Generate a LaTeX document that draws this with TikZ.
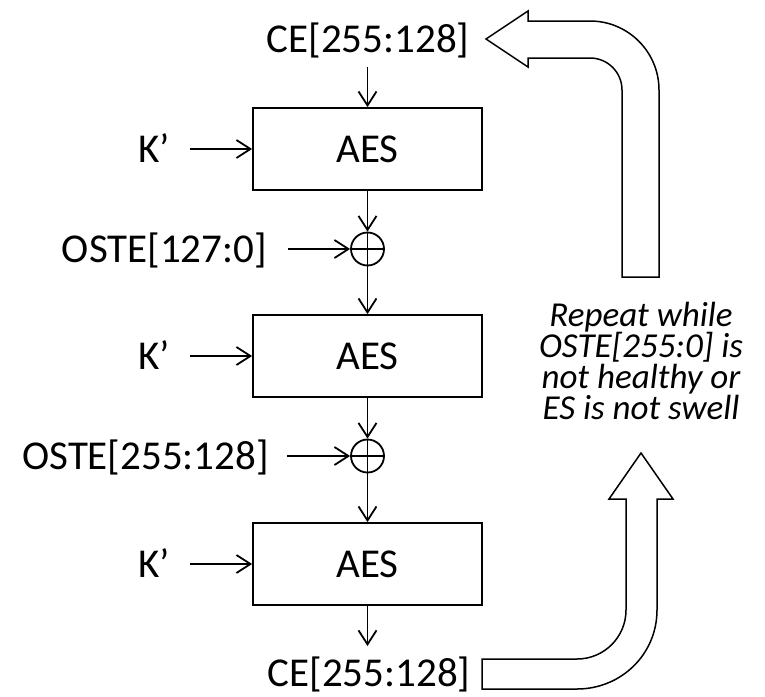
\documentclass[tikz,border=0pt]{standalone}
\usepackage{fontspec}
\setmainfont{Carlito}
\usetikzlibrary{arrows.meta}
\begin{document}
\begin{tikzpicture}[x=1pt,y=-1pt,
  lbl/.style={font=\fontsize{41}{49}\selectfont, inner sep=0pt},
  aes/.style={draw, line width=1.8pt, minimum width=229pt, minimum height=82pt, inner sep=0pt, font=\fontsize{41}{49}\selectfont},
  xorc/.style={draw, circle, line width=1.8pt, minimum size=33pt, inner sep=0pt},
  conn/.style={line width=1.8pt, -{Straight Barb[length=14pt,width=18pt,line width=1.8pt]}},
  bigarrow/.style={draw, line width=1.5pt, line join=miter},
  note/.style={font=\fontsize{35}{31}\selectfont\itshape, align=center, inner sep=0pt}
]
\useasboundingbox (0,0) rectangle (765,696);

\node[lbl, anchor=base] (ceTop) at (368,52) {CE[255:128]};
\node[aes] (b1) at (367.5,149) {AES};
\node[aes] (b2) at (367.5,356) {AES};
\node[aes] (b3) at (367.5,564) {AES};
\node[xorc] (x1) at (367.5,249) {};
\node[xorc] (x2) at (367.5,456) {};
\node[lbl, anchor=base] (ceBot) at (369,686) {CE[255:128]};
\node[lbl, anchor=base east] (k1) at (170,162) {K’};
\node[lbl, anchor=base east] (k2) at (170,369) {K’};
\node[lbl, anchor=base east] (k3) at (170,577) {K’};
\node[lbl, anchor=base east] (o1) at (267,262) {OSTE[127:0]};
\node[lbl, anchor=base east] (o2) at (269,469) {OSTE[255:128]};
\node[note] (rep) at (641,361) {Repeat while\\OSTE[255:0] is\\not healthy or\\ES is not swell};

\coordinate (topStart) at (367.5,67);
\coordinate (botEnd) at (367.5,646);

\draw[line width=1.8pt] (x1.north) -- (x1.south) (x1.west) -- (x1.east);
\draw[line width=1.8pt] (x2.north) -- (x2.south) (x2.west) -- (x2.east);

\draw[conn] (topStart) -- (b1.north);
\draw[conn] (b1.south) -- (x1.north);
\draw[conn] (x1.south) -- (b2.north);
\draw[conn] (b2.south) -- (x2.north);
\draw[conn] (x2.south) -- (b3.north);
\draw[conn] (b3.south) -- (botEnd);

\draw[conn] ([xshift=20pt]k1.east |- b1.west) -- (b1.west);
\draw[conn] ([xshift=20pt]k2.east |- b2.west) -- (b2.west);
\draw[conn] ([xshift=20pt]k3.east |- b3.west) -- (b3.west);
\draw[conn] ([xshift=21pt]o1.east |- x1.west) -- (x1.west);
\draw[conn] ([xshift=18pt]o2.east |- x2.west) -- (x2.west);

% top U-turn arrow
\draw[bigarrow] (486,39) -- (528,11) -- (528,21) -- (590,21)
  .. controls (628.1,21) and (659,51.9) .. (659,90)
  -- (659,277) -- (622,277) -- (622,90)
  .. controls (622,72.3) and (607.7,58) .. (590,58)
  -- (528,58) -- (528,67) -- cycle;

% bottom U-turn arrow
\draw[bigarrow] (482,659) -- (577,659)
  .. controls (604.1,659) and (626,637.1) .. (626,610)
  -- (626,499) -- (609,499) -- (641,453) -- (673,499) -- (657,499) -- (657,610)
  .. controls (657,654.2) and (621.2,689) .. (577,689)
  -- (482,689) -- cycle;
\end{tikzpicture}
\end{document}
